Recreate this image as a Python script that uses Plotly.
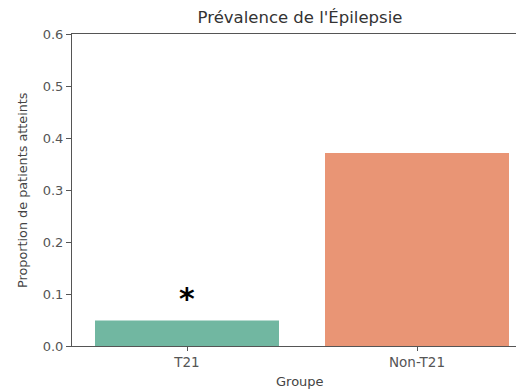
import plotly.graph_objects as go

categories = ["T21", "Non-T21"]
values = [0.049, 0.371]
colors = ["#71b7a1", "#e99575"]
y_ticks = [0.0, 0.1, 0.2, 0.3, 0.4, 0.5, 0.6]
y_tick_labels = ["0.0", "0.1", "0.2", "0.3", "0.4", "0.5", "0.6"]
annot_text = "*"
annot_y = 0.092

FONT = "DejaVu Sans"

fig = go.Figure()
fig.add_trace(go.Bar(x=[0, 1], y=values, marker=dict(color=colors, line=dict(width=0)),
                     width=0.8, showlegend=False))

fig.add_annotation(x=0, y=annot_y, text="<b>" + annot_text + "</b>", showarrow=False,
                   font=dict(size=30, color="black", family="DejaVu Sans"), yanchor="middle")

# axis titles as annotations for exact placement (page has an 8px body offset)
fig.add_annotation(xref="paper", yref="paper", x=(14 - 64) / 460, y=0.5, text="Proportion de patients atteints",
                   textangle=-90, showarrow=False, xanchor="center", yanchor="middle",
                   font=dict(size=12.8, color="#444444", family=FONT))
fig.add_annotation(xref="paper", yref="paper", x=(292 - 64) / 460, y=-(373 - 338) / 312, text="Groupe",
                   showarrow=False, xanchor="center", yanchor="middle",
                   font=dict(size=13, color="#444444", family=FONT))

fig.update_layout(
    width=524, height=389,
    margin=dict(l=64, r=0, t=26, b=51, autoexpand=False),
    paper_bgcolor="white", plot_bgcolor="white",
    title=dict(text="Prévalence de l'Épilepsie", x=292/524, xanchor="center", y=1-9/389, yanchor="middle",
               font=dict(size=16.5, color="#333333", family=FONT)),
    font=dict(family=FONT, color="#444444"),
)
fig.update_xaxes(
    range=[-0.5, 1.5], tickmode="array", tickvals=[0, 1], ticktext=categories,
    showline=True, linecolor="#555555", linewidth=1, mirror=True,
    ticks="outside", ticklen=4, tickcolor="#555555", showgrid=False, zeroline=False,
    tickfont=dict(size=13.5, color="#555555", family=FONT), automargin=False,
)
fig.update_yaxes(
    range=[0, 0.6], tickmode="array", tickvals=y_ticks, ticktext=y_tick_labels,
    showline=True, linecolor="#555555", linewidth=1,
    ticks="outside", ticklen=5, tickcolor="#555555", showgrid=False, zeroline=False,
    tickfont=dict(size=13, color="#555555", family=FONT), automargin=False,
)

fig.write_html("out.html")
